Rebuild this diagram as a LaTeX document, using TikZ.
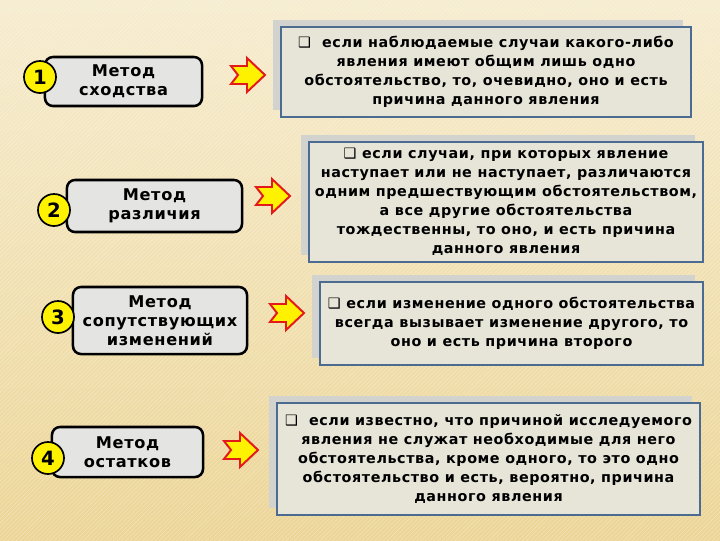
\documentclass[tikz,border=0pt]{standalone}
\usepackage{fontspec}
\setmainfont{DejaVu Sans}
\newfontfamily\slidefont[LetterSpace=4]{DejaVu Sans}
\usetikzlibrary{shadows, patterns}
\definecolor{bgTop}{HTML}{F6ECCF}
\definecolor{bgBot}{HTML}{ECD596}
\definecolor{mGray}{HTML}{E4E4E2}
\definecolor{tFill}{HTML}{E7E4D8}
\definecolor{tEdge}{HTML}{4B6B91}
\definecolor{tShade}{HTML}{D2D2CE}
\definecolor{aRed}{HTML}{E41A1A}
\definecolor{aYellow}{HTML}{FFF200}
\tikzset{
  pics/notcharrow/.style={code={
    \draw[aRed, line width=1.4pt, fill=aYellow, line join=miter]
      (-17,-9) -- (-1,-9) -- (-1,-17) -- (17,0) -- (-1,17) -- (-1,9) -- (-17,9) -- (-10,0) -- cycle;
  }}
}
\begin{document}
\begin{tikzpicture}[
  x=0.025cm, y=-0.025cm,
  method/.style={draw, line width=1.8pt, rounded corners=0.2cm, fill=mGray, align=center,
    inner sep=2pt, font=\slidefont\bfseries\fontsize{11.5}{13.5}\selectfont},
  num/.style={circle, draw, line width=1.2pt, fill=aYellow, minimum size=0.8cm, inner sep=0pt,
    font=\bfseries\fontsize{14}{16}\selectfont},
  desc/.style={draw=tEdge, line width=1.3pt, fill=tFill, align=center, inner sep=2pt,
    font=\slidefont\bfseries\fontsize{10.2}{13.5}\selectfont,
    drop shadow={shadow xshift=-0.2cm, shadow yshift=0.17cm, fill=tShade, opacity=1}}
]
  \fill[top color=bgTop, bottom color=bgBot] (0,0) rectangle (720,540);
  \fill[pattern=north east lines, pattern color=white, opacity=0.3] (0,0) rectangle (720,540);
  \useasboundingbox (0,0) rectangle (720,540);

  \node[method, minimum width=3.925cm, minimum height=1.225cm] (m1) at (123.5,81.5) {Метод\\сходства};
  \node[num] (n1) at (40,77) {1};
  \pic at (248,75) {notcharrow};
  \node[desc, minimum width=10.25cm, minimum height=2.25cm] (t1) at (486,72)
    {❑\ \ если наблюдаемые случаи какого-либо\\явления имеют общим лишь одно\\обстоятельство, то, очевидно, оно и есть\\причина данного явления};

  \node[method, minimum width=4.375cm, minimum height=1.3cm] (m2) at (154.5,206) {Метод\\различия};
  \node[num] (n2) at (54,210) {2};
  \pic at (273,196) {notcharrow};
  \node[desc, minimum width=9.85cm, minimum height=3cm] (t2) at (506,202)
    {❑\ если случаи, при которых явление\\наступает или не наступает, различаются\\одним предшествующим обстоятельством,\\а все другие обстоятельства\\тождественны, то оно, и есть причина\\данного явления};

  \node[method, minimum width=4.35cm, minimum height=1.675cm] (m3) at (160,320.5) {Метод\\сопутствующих\\изменений};
  \node[num] (n3) at (58,317) {3};
  \pic at (287,313) {notcharrow};
  \node[desc, minimum width=9.575cm, minimum height=2.075cm] (t3) at (511.5,323.5)
    {❑\ если изменение одного обстоятельства\\всегда вызывает изменение другого, то\\оно и есть причина второго};

  \node[method, minimum width=3.775cm, minimum height=1.25cm] (m4) at (127.5,452) {Метод\\остатков};
  \node[num] (n4) at (48,458) {4};
  \pic at (241,450) {notcharrow};
  \node[desc, minimum width=10.575cm, minimum height=2.8cm] (t4) at (488.5,459)
    {❑\ \ если известно, что причиной исследуемого\\явления не служат необходимые для него\\обстоятельства, кроме одного, то это одно\\обстоятельство и есть, вероятно, причина\\данного явления};
\end{tikzpicture}
\end{document}
